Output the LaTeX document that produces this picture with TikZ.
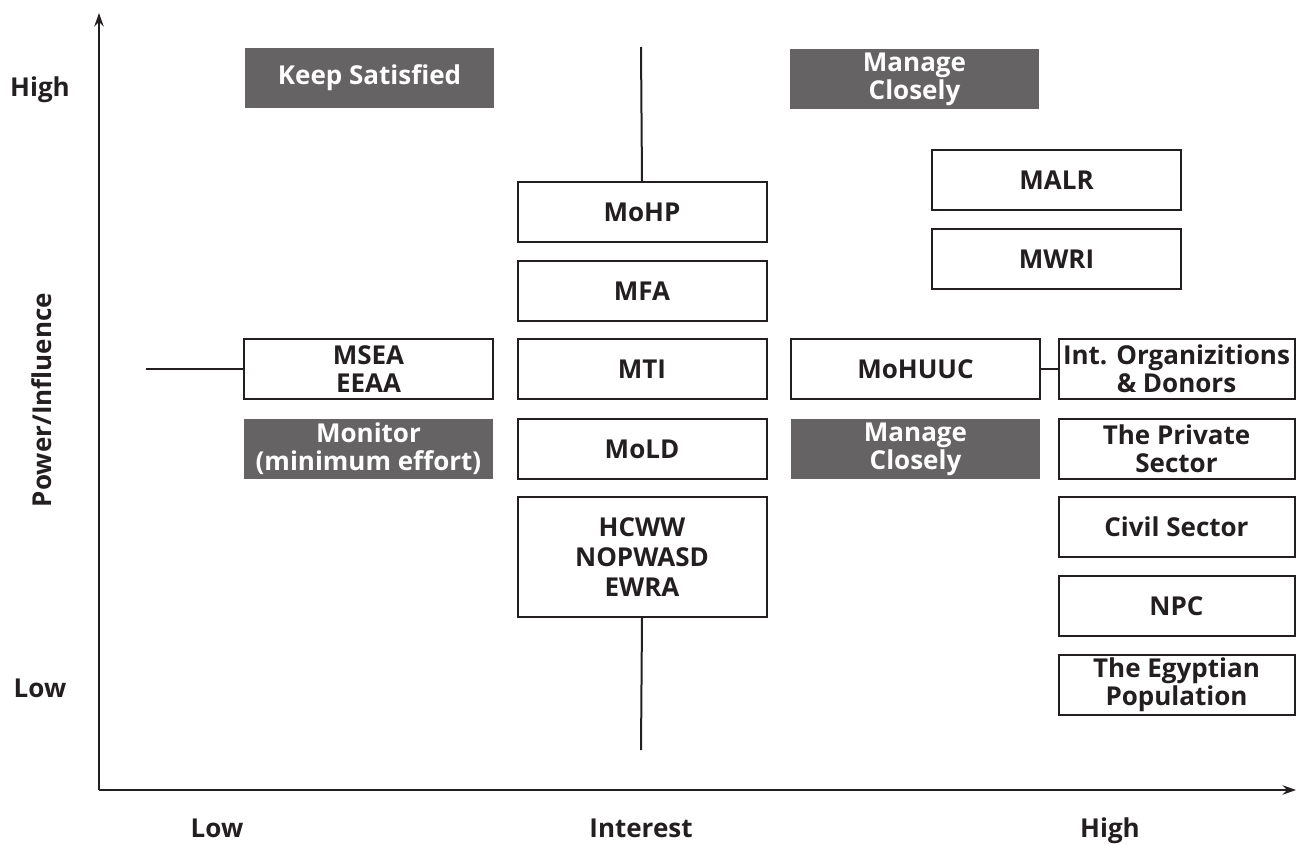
\documentclass[tikz,border=0pt]{standalone}
\usepackage{fontspec}
\setmainfont{Open Sans}
\usetikzlibrary{arrows.meta}
\definecolor{darkbox}{HTML}{656364}
\definecolor{ink}{HTML}{231F20}
\begin{document}
\begin{tikzpicture}[x=0.75pt,y=-0.75pt,
  every node/.style={font=\bfseries\fontsize{19.5}{21}\selectfont, text=ink, align=center, inner sep=0pt},
  wbox/.style={draw=ink, line width=1.5pt, fill=white, minimum width=186.75pt, minimum height=45pt},
  dbox/.style={fill=darkbox, text=white, minimum width=186.75pt, minimum height=45pt},
  tallbox/.style={wbox, minimum height=90pt, font=\bfseries\fontsize{19.5}{22.5}\selectfont},
  axis/.style={draw=ink, line width=1.5pt, -{Stealth[length=10pt,width=7pt]}},
  conn/.style={draw=ink, line width=1.5pt},
  lab/.style={anchor=base}]
\useasboundingbox (0,0) rectangle (1296,843);
% axes
\coordinate (O) at (99,790);
\coordinate (Ytop) at (99,13);
\coordinate (Xend) at (1296,790);
\draw[axis] (O) -- (Ytop);
\draw[axis] (O) -- (Xend);
% axis labels
\node[lab] (yhigh) at (40,96) {High};
\node[lab] (ylow) at (40,697) {Low};
\node[rotate=90] (ylab) at (42,400) {Power/Influence};
\node[lab] (xlow) at (217,837) {Low};
\node[lab] (xlab) at (641,837) {Interest};
\node[lab] (xhigh) at (1110,837) {High};
% quadrant labels
\node[dbox] (ks) at (369.5,78) {Keep Satisfied};
\node[dbox] (mc1) at (914.5,79) {Manage\\Closely};
\node[dbox] (mon) at (368.5,449) {Monitor\\(minimum effort)};
\node[dbox] (mc2) at (915.5,449) {Manage\\Closely};
% central column
\node[wbox] (mohp) at (642,212) {MoHP};
\node[wbox] (mfa) at (642,291) {MFA};
\node[wbox] (mti) at (642,369) {MTI};
\node[wbox] (mold) at (642,449) {MoLD};
\node[tallbox] (hcww) at (642,557) {HCWW\\NOPWASD\\EWRA};
% left
\node[wbox] (msea) at (368.5,369) {MSEA\\EEAA};
% right-upper
\node[wbox] (malr) at (1056.5,180) {MALR};
\node[wbox] (mwri) at (1056.5,259) {MWRI};
\node[wbox] (mohuuc) at (915.5,369) {MoHUUC};
% right column
\node[wbox, minimum width=177pt] (intorg) at (1176.5,369) {Int. Organizitions\\\& Donors};
\node[wbox, minimum width=177pt] (priv) at (1176.5,449) {The Private\\Sector};
\node[wbox, minimum width=177pt] (civil) at (1176.5,527) {Civil Sector};
\node[wbox, minimum width=177pt] (npc) at (1176.5,606) {NPC};
\node[wbox, minimum width=177pt] (egy) at (1176.5,685) {The Egyptian\\Population};
% dividers
\coordinate (vtop) at (641,47);
\coordinate (vbot) at (641,750);
\coordinate (hleft) at (146,369);
\draw[conn] (vtop) -- (mohp.north);
\draw[conn] (hcww.south) -- (vbot);
\draw[conn] (hleft) -- (msea.west);
\draw[conn] (mohuuc.east) -- (intorg.west);
\end{tikzpicture}
\end{document}
